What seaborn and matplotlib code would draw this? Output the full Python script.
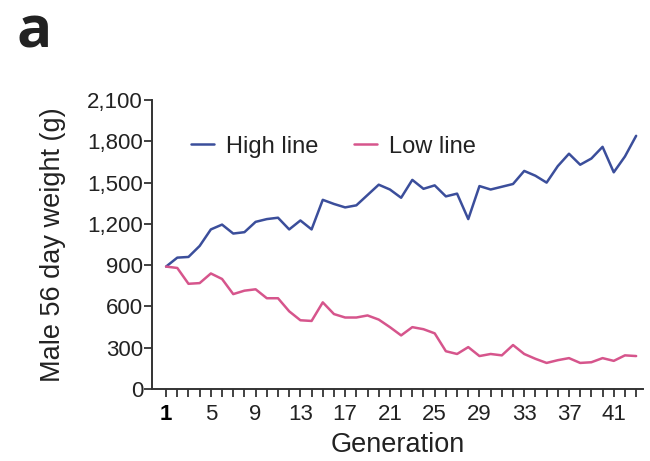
import numpy as np
import pandas as pd
import seaborn as sns
import matplotlib.pyplot as plt

# --- data (male 56-day weight, grams) ---
generation = list(range(1, 44))
high_line = [890, 955, 960, 1040, 1160, 1195, 1130, 1140, 1215, 1235,
             1245, 1160, 1225, 1160, 1375, 1345, 1320, 1335, 1410, 1485,
             1450, 1390, 1520, 1455, 1480, 1400, 1420, 1235, 1475, 1450,
             1470, 1490, 1585, 1550, 1500, 1620, 1710, 1630, 1675, 1760,
             1575, 1690, 1840]
low_line = [890, 880, 765, 770, 840, 800, 690, 715, 725, 660,
            660, 565, 500, 495, 630, 545, 520, 520, 535, 505,
            450, 390, 450, 435, 405, 275, 255, 305, 240, 255,
            245, 320, 255, 220, 190, 210, 225, 190, 195, 225,
            205, 245, 240]
series_names = ['High line', 'Low line']
colors = ['#3b4e9b', '#d6558c']
y_ticks = list(range(0, 2101, 300))
x_label_ticks = list(range(1, 42, 4))

df = pd.DataFrame({
    'Generation': generation * 2,
    'weight': high_line + low_line,
    'line': [series_names[0]] * len(generation) + [series_names[1]] * len(generation),
})

# --- plotting ---
sns.set_style('ticks')
plt.rcParams['font.family'] = ['Liberation Sans', 'DejaVu Sans']

fig = plt.figure(figsize=(6.5, 4.61), dpi=100)
ax = fig.add_axes([0.234, 0.156, 0.755, 0.627])
sns.lineplot(data=df, x='Generation', y='weight', hue='line',
             palette=dict(zip(series_names, colors)), linewidth=1.8, ax=ax)

ax.set_ylim(0, 2100)
ax.set_xlim(-0.25, 43.6)
ax.set_yticks(y_ticks)
ax.set_yticklabels([f'{v:,}' for v in y_ticks])
ax.set_xticks(x_label_ticks)
ax.set_xticklabels([str(v) for v in x_label_ticks])
ax.set_xticks(generation, minor=True)
ax.tick_params(axis='both', which='major', labelsize=16, length=5.5,
               width=1.3, color='#333333', labelcolor='#222222')
ax.tick_params(axis='x', which='major', pad=5)
ax.tick_params(axis='y', which='major', pad=1)
ax.tick_params(axis='x', which='minor', length=5.5, width=1.3, color='#333333')
ax.get_xticklabels()[0].set_color('black')
ax.get_xticklabels()[0].set_fontweight('bold')

ax.set_xlabel('Generation', fontsize=19.5, color='#222222', labelpad=5)
ax.set_ylabel('Male 56 day weight (g)', fontsize=19.5, color='#222222', labelpad=15)

for side in ['left', 'bottom']:
    ax.spines[side].set_linewidth(1.4)
    ax.spines[side].set_color('#333333')
sns.despine(ax=ax)

handles, labels = ax.get_legend_handles_labels()
ax.legend(handles, labels, ncol=2, frameon=False, fontsize=17,
          loc='upper left', bbox_to_anchor=(0.035, 0.95),
          handlelength=1.0, handletextpad=0.5, columnspacing=1.5,
          labelcolor='#222222')

fig.text(0.025, 0.898, 'a', fontsize=42, fontweight='bold',
         family=['Open Sans', 'DejaVu Sans'], color='#222222')

fig.savefig('out.png', dpi=100)
